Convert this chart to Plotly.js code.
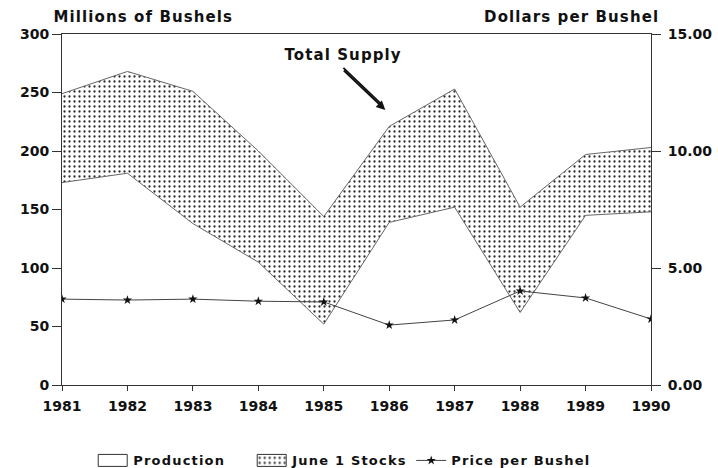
<!DOCTYPE html>
<html>
<head>
<meta charset="utf-8">
<script src="https://cdn.plot.ly/plotly-3.0.1.min.js"></script>
<style>
html,body{margin:0;padding:0;background:#fff;}
#chart{width:718px;height:468px;}
#chart .annotation-text{letter-spacing:1.1px;}
#chart .legendtext{letter-spacing:1.2px;}
#chart .legend .scrollbox{clip-path:none !important;}
#chart .legend .legendfill path{stroke:#333 !important;stroke-width:1px !important;d:path("M5,-6h29v12h-29z");}
</style>
</head>
<body>
<div id="chart"></div>
<script>
const years = [1981, 1982, 1983, 1984, 1985, 1986, 1987, 1988, 1989, 1990];
const production = [173, 181, 138, 105, 52, 139, 152, 62, 145, 148];
const june1Stocks = [76, 87, 113, 95, 92, 82, 101, 90, 52, 55];
const pricePerBushel = [3.67, 3.63, 3.67, 3.58, 3.55, 2.56, 2.78, 4.02, 3.72, 2.82];
const yTicks = [0, 50, 100, 150, 200, 250, 300];
const y2Ticks = [0, 5, 10, 15];

const totalSupply = production.map((p, i) => p + june1Stocks[i]);
const FONT = 'DejaVu Sans, Verdana, sans-serif';
const INK = '#111';
const EDGE = '#666';

const traces = [
  {
    x: years, y: production, name: 'Production', type: 'scatter', mode: 'none',
    fill: 'tozeroy', fillcolor: '#ffffff'
  },
  {
    x: years, y: totalSupply, name: 'June 1 Stocks', type: 'scatter', mode: 'none',
    fill: 'tonexty', fillcolor: '#ffffff',
    fillpattern: {shape: '.', size: 5, solidity: 0.16, fgcolor: '#2a2a2a', bgcolor: '#ffffff'},
    customdata: june1Stocks, hovertemplate: '%{customdata}<extra></extra>'
  },
  {
    x: years, y: production, name: 'Production edge', type: 'scatter', mode: 'lines',
    line: {color: EDGE, width: 1}, showlegend: false
  },
  {
    x: years, y: totalSupply, name: 'Total Supply edge', type: 'scatter', mode: 'lines',
    line: {color: EDGE, width: 1}, showlegend: false
  },
  {
    x: years, y: pricePerBushel, name: 'Price per Bushel', type: 'scatter', mode: 'lines+markers',
    yaxis: 'y2', line: {color: '#444', width: 1},
    marker: {symbol: 'star', size: 7, color: '#111'}
  }
];

const tickFont = {family: FONT, size: 14, color: INK, weight: 'bold'};

const layout = {
  width: 718, height: 468,
  margin: {l: 62, r: 67, t: 34, b: 83, autoexpand: false},
  paper_bgcolor: '#fff', plot_bgcolor: '#fff',
  font: {family: FONT, size: 14, color: INK},
  showlegend: true,
  legend: {
    orientation: 'h', x: 0.053, xanchor: 'left', y: -0.215, yanchor: 'middle',
    font: {family: FONT, size: 13, color: INK, weight: 'bold'}, traceorder: 'normal',
    bgcolor: 'rgba(0,0,0,0)',
    itemwidth: 30, entrywidth: 114, entrywidthmode: 'pixels'
  },
  xaxis: {
    range: [1981, 1990], tickvals: years, ticktext: years.map(String),
    ticks: 'outside', ticklen: 5, tickcolor: '#333',
    showline: true, linecolor: '#333', linewidth: 1, mirror: true,
    showgrid: false, zeroline: false, ticklabelstandoff: 3,
    tickfont: tickFont
  },
  yaxis: {
    range: [0, 300], tickvals: yTicks,
    ticks: 'outside', ticklen: 9, tickcolor: '#333',
    showline: true, linecolor: '#333', linewidth: 1,
    showgrid: false, zeroline: false,
    tickfont: tickFont
  },
  yaxis2: {
    range: [0, 15], tickvals: y2Ticks, tickformat: '.2f',
    overlaying: 'y', side: 'right',
    ticks: 'outside', ticklen: 9, tickcolor: '#333',
    showline: true, linecolor: '#333', linewidth: 1,
    showgrid: false, zeroline: false, ticklabelstandoff: 4,
    tickfont: tickFont
  },
  shapes: [
    {type: 'line', xref: 'x', yref: 'y', x0: 1985.30, y0: 271, x1: 1985.90, y1: 239,
     line: {color: '#111', width: 1.8}, layer: 'above'}
  ],
  annotations: [
    {xref: 'paper', yref: 'paper', x: 0, y: 1, xanchor: 'left', yanchor: 'bottom', yshift: 6,
     text: 'Millions of Bushels', showarrow: false, font: {family: FONT, size: 15, color: INK, weight: 'bold'}},
    {xref: 'paper', yref: 'paper', x: 1, y: 1, xanchor: 'right', yanchor: 'bottom', yshift: 6,
     text: 'Dollars per Bushel', showarrow: false, font: {family: FONT, size: 15, color: INK, weight: 'bold'}},
    {xref: 'x', yref: 'y', x: 1985.29, y: 282, text: 'Total Supply', showarrow: false,
     font: {family: FONT, size: 15, color: INK, weight: 'bold'}},
    {xref: 'x', yref: 'y', x: 1985.94, y: 235, ax: -42, ay: -40, text: ' ', showarrow: true,
     font: {size: 1}, borderpad: 0,
     arrowhead: 2, arrowsize: 1, arrowwidth: 1.8, arrowcolor: '#111'}
  ]
};

Plotly.newPlot('chart', traces, layout, {displayModeBar: false, staticPlot: true});
</script>
</body>
</html>
